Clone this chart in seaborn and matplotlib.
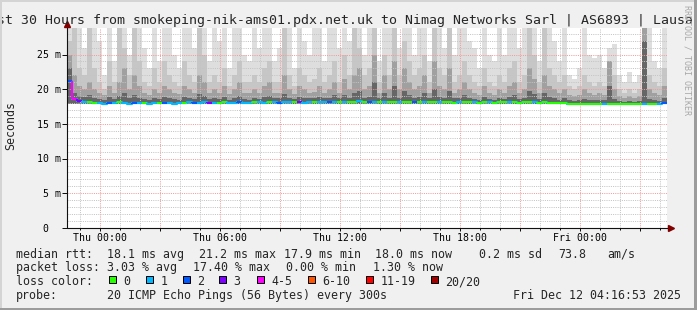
import matplotlib
matplotlib.use("Agg")
import matplotlib.pyplot as plt
import seaborn as sns
import numpy as np
import pandas as pd
from matplotlib.patches import Rectangle
from matplotlib.transforms import offset_copy, blended_transform_factory

# ---------------- data ----------------
title = "Last 30 Hours from smokeping-nik-ams01.pdx.net.uk to Nimag Networks Sarl | AS6893 | Lausanne"
x_tick_hours = [0, 6, 12, 18, 24]
x_tick_labels = ["Thu 00:00", "Thu 06:00", "Thu 12:00", "Thu 18:00", "Fri 00:00"]
y_tick_values = [0, 5, 10, 15, 20, 25]
y_tick_labels = [" 0", " 5 m", "10 m", "15 m", "20 m", "25 m"]
start_hour = -1.65      # hours relative to Thu 00:00
step_hours = 0.25

# smoke envelopes (ms), outermost (lightest) to innermost (darkest)
smoke_max = [
    29.5, 29.5, 29.5, 26, 29.5, 29.5, 27, 22, 29.5, 24, 29.5, 29.5, 25, 29.5, 29.5, 26, 23, 29.5, 24, 29.5,
    29.5, 25, 23, 29.5, 29.5, 26, 29.5, 29.5, 24, 29.5, 27, 29.5, 23, 29.5, 29.5, 25, 24, 29.5, 26, 29.5,
    29.5, 24, 26, 29.5, 29.5, 23, 29.5, 27, 25, 29.5, 29.5, 24, 29.5, 29.5, 26, 29.5, 27, 29.5, 29.5, 25,
    29.5, 29.5, 24, 29.5, 29.5, 29.5, 26, 29.5, 29.5, 25, 29.5, 29.5, 24, 29.5, 29.5, 26, 29.5, 25, 29.5, 29.5,
    27, 26, 23, 29.5, 25, 24, 29.5, 25, 29.5, 29.5, 26, 29.5, 29.5, 29.5, 24, 29.5, 29.5, 27, 24, 29.5,
    22, 21.5, 23, 29.5, 25, 24.5, 25, 23, 26, 26.5, 22, 21, 22.5, 21, 22, 29.5, 29.5, 24, 23, 29.5,
]
smoke_q2 = [
    27, 29.5, 23, 22, 29.5, 23, 21, 20, 24, 21, 29.5, 26, 22, 29.5, 24, 21, 20.5, 23, 21, 24,
    22, 21, 20.5, 24, 22, 21, 29.5, 25, 21, 22, 21, 23, 20.5, 22, 24, 21, 21, 22, 21, 23,
    24, 21, 21, 29.5, 22, 20.5, 23, 22, 21, 21.5, 23, 21, 22, 24, 21, 25, 22, 29.5, 26, 22,
    23, 29.5, 21, 25, 22, 29.5, 22, 27, 24, 22, 23, 25, 21, 29.5, 23, 22, 29.5, 21, 22, 24,
    22, 21, 20.5, 23, 21, 20.5, 22, 21, 23, 24, 21, 22, 29.5, 25, 21, 29.5, 23, 22, 21, 22,
    20.5, 20, 20.5, 22, 21, 20.5, 21, 20.5, 24, 22, 20, 19.5, 20, 19.5, 20, 29.5, 22, 21, 20.5, 23,
]
smoke_q3 = [
    25, 22, 20.5, 20, 21, 20, 19.5, 19.2, 20.5, 19.5, 21, 23, 20, 22, 20.5, 19.5, 19.2, 20, 19.5, 20.5,
    20, 19.5, 19.3, 20.5, 20, 19.5, 22, 21, 19.5, 20, 19.5, 20.5, 19.3, 20, 21, 19.5, 19.4, 20, 19.5, 20.5,
    21, 19.5, 19.5, 22, 20, 19.3, 20.5, 20, 19.5, 19.6, 20.5, 19.5, 20, 21, 19.5, 21.5, 20, 22, 23, 20,
    20.5, 25, 19.5, 22, 20, 24, 20, 23, 21, 20, 20.5, 22, 19.5, 24, 20.5, 20, 23, 19.5, 20, 21,
    20, 19.5, 19.2, 20.5, 19.5, 19.2, 20, 19.5, 20.5, 21, 19.5, 20, 23, 21.5, 19.5, 22, 20.5, 20, 19.5, 20,
    19.2, 19, 19.2, 20, 19.5, 19.2, 19.5, 19.2, 24, 20, 19, 18.8, 19, 18.8, 19, 29.5, 20, 19.5, 19.2, 20.5,
]
smoke_q4 = [
    23, 19.5, 19, 18.9, 19.2, 18.8, 18.6, 18.5, 18.9, 18.6, 19, 19.5, 18.7, 19.2, 18.8, 18.6, 18.5, 18.8, 18.6, 18.9,
    18.8, 18.6, 18.5, 18.9, 18.8, 18.6, 19.3, 19, 18.6, 18.8, 18.6, 18.9, 18.5, 18.8, 19, 18.6, 18.5, 18.8, 18.6, 18.9,
    19, 18.7, 18.7, 19.3, 18.8, 18.6, 18.9, 18.8, 18.7, 18.7, 18.9, 18.7, 18.8, 19.1, 18.7, 19.2, 18.8, 19.4, 19.8, 18.8,
    18.9, 21, 18.7, 19.4, 18.8, 20.5, 18.8, 19.8, 19.1, 18.8, 18.9, 19.4, 18.7, 20, 18.9, 18.8, 19.8, 18.7, 18.8, 19.2,
    18.8, 18.6, 18.5, 18.9, 18.6, 18.5, 18.8, 18.6, 18.9, 19.2, 18.6, 18.8, 19.8, 19.3, 18.6, 19.5, 18.9, 18.8, 18.5, 18.7,
    18.4, 18.3, 18.4, 18.6, 18.5, 18.4, 18.5, 18.4, 20.5, 18.6, 18.3, 18.2, 18.3, 18.2, 18.3, 27, 18.6, 18.4, 18.3, 18.7,
]
rtt_min = [
    17.9, 17.9, 17.8, 17.8, 17.8, 17.8, 17.8, 17.7, 17.8, 17.8, 17.8, 17.8, 17.7, 17.8, 17.8, 17.8, 17.7, 17.8, 17.8, 17.8,
    17.8, 17.7, 17.8, 17.8, 17.8, 17.8, 17.8, 17.8, 17.8, 17.8, 17.8, 17.8, 17.8, 17.8, 17.8, 17.8, 17.8, 17.8, 17.8, 17.8,
    17.8, 17.8, 17.8, 17.8, 17.9, 17.8, 17.8, 17.8, 17.8, 17.8, 17.8, 17.9, 17.8, 17.8, 17.8, 17.9, 17.8, 17.9, 17.9, 17.9,
    17.9, 17.9, 17.8, 17.9, 17.9, 17.9, 17.8, 17.8, 17.9, 17.8, 17.8, 17.9, 17.8, 17.8, 17.9, 17.8, 17.8, 17.8, 17.8, 17.8,
    17.8, 17.8, 17.8, 17.8, 17.8, 17.8, 17.8, 17.8, 17.8, 17.8, 17.8, 17.8, 17.8, 17.8, 17.8, 17.8, 17.8, 17.8, 17.8, 17.8,
    17.7, 17.7, 17.7, 17.7, 17.7, 17.7, 17.7, 17.7, 17.7, 17.7, 17.7, 17.7, 17.7, 17.7, 17.7, 17.7, 17.7, 17.7, 17.7, 17.8,
]
median_rtt = [
    21.2, 18.6, 18.3, 18.2, 18.1, 18.0, 18.0, 17.9, 18.0, 18.0, 18.1, 18.0, 17.9, 18.0, 18.0, 18.0, 17.9, 18.0, 18.0, 18.0,
    18.0, 17.9, 18.0, 18.0, 18.1, 18.0, 18.0, 18.1, 18.0, 18.0, 18.0, 18.1, 18.0, 18.0, 18.1, 18.0, 18.0, 18.1, 18.1, 18.0,
    18.1, 18.1, 18.0, 18.1, 18.2, 18.1, 18.1, 18.0, 18.1, 18.1, 18.1, 18.2, 18.1, 18.1, 18.1, 18.2, 18.1, 18.2, 18.3, 18.2,
    18.2, 18.2, 18.1, 18.2, 18.2, 18.2, 18.1, 18.1, 18.2, 18.1, 18.1, 18.2, 18.1, 18.1, 18.2, 18.1, 18.1, 18.0, 18.1, 18.1,
    18.1, 18.1, 18.0, 18.1, 18.1, 18.0, 18.1, 18.1, 18.1, 18.1, 18.0, 18.1, 18.1, 18.1, 18.0, 18.1, 18.0, 18.0, 18.0, 18.0,
    17.9, 17.9, 17.9, 17.9, 17.9, 17.9, 17.9, 17.9, 17.9, 17.9, 17.9, 17.9, 17.9, 17.9, 17.9, 17.9, 17.9, 17.9, 17.9, 18.0,
]
loss = [
    2, 4, 3, 1, 0, 0, 1, 1, 2, 1, 0, 1, 1, 2, 1, 0, 1, 1, 0, 2,
    1, 1, 1, 0, 1, 2, 1, 1, 3, 1, 0, 0, 1, 1, 2, 1, 1, 0, 1, 1,
    0, 1, 2, 1, 1, 0, 3, 1, 1, 0, 1, 1, 2, 1, 0, 1, 0, 0, 1, 0,
    2, 1, 0, 1, 0, 0, 1, 0, 0, 2, 0, 1, 0, 0, 1, 0, 0, 0, 1, 0,
    0, 1, 0, 0, 1, 0, 0, 0, 1, 0, 0, 0, 0, 1, 0, 0, 0, 0, 0, 0,
    0, 0, 0, 0, 0, 0, 0, 1, 0, 0, 0, 0, 0, 0, 0, 1, 0, 0, 1, 2,
]

loss_labels = ["0", "1", "2", "3", "4-5", "6-10", "11-19", "20/20"]
loss_colors = ["#26ff00", "#00b8ff", "#0059ff", "#7e00ff", "#ff00ff", "#ff5500", "#ff0000", "#a10000"]
loss_upper = [0, 1, 2, 3, 5, 10, 19, 20]

rtt_row = ["18.1 ms avg", "21.2 ms max", "17.9 ms min", "18.0 ms now", "0.2 ms sd", "73.8", "am/s"]
loss_row = ["3.03 % avg", "17.40 % max", "0.00 % min", "1.30 % now"]
probe_text = "20 ICMP Echo Pings (56 Bytes) every 300s"
stamp_text = "Fri Dec 12 04:16:53 2025"

# ---------------- figure ----------------
W, H, DPI = 697, 310, 100
sns.set_theme(style="white")
plt.rcParams['font.family'] = ['DejaVu Sans Mono', 'DejaVu Sans']

fig = plt.figure(figsize=(W / DPI, H / DPI), dpi=DPI, facecolor='#f0f0f0')
PL, PR, PT, PB = 67, 667, 28, 228
ax = fig.add_axes([PL / W, 1 - PB / H, (PR - PL) / W, (PB - PT) / H])
ax.set_facecolor('white')

n = len(median_rtt)
edges = start_hour + step_hours * np.arange(n + 1)


def ext(a):
    return np.append(np.asarray(a, float), a[-1])


layers = [(smoke_max, '#dedede'), (smoke_q2, '#c6c6c6'), (smoke_q3, '#a0a0a0'), (smoke_q4, '#666666')]
for vals, col in layers:
    ax.fill_between(edges, ext(rtt_min), ext(vals), step='post', color=col, lw=0, zorder=1)


def loss_idx(v):
    for k, up in enumerate(loss_upper):
        if v <= up:
            return k
    return len(loss_upper) - 1


seg_cols = [loss_colors[loss_idx(v)] for v in loss]
df = pd.DataFrame({'t': edges, 'rtt': ext(median_rtt)})
sns.lineplot(data=df, x='t', y='rtt', estimator=None, drawstyle='steps-post',
             color=loss_colors[1], lw=1.5, ax=ax, zorder=3)
ax.hlines(median_rtt, edges[:-1], edges[1:], colors=seg_cols, lw=1.5, zorder=3.1)
ax.vlines(edges[1:-1], median_rtt[:-1], median_rtt[1:], colors=seg_cols[1:], lw=1.5, zorder=3.1)
ax.vlines(edges[:1], median_rtt[:1], median_rtt[1:2], colors=seg_cols[:1], lw=1.5, zorder=3.1)

ax.set_xlabel('')
ax.set_ylabel('')
ax.set_xlim(edges[0], edges[-1])
ax.set_ylim(0, 28.82)
ax.set_xticks(np.arange(0, 28, 3))
ax.set_xticks(np.arange(-1, 29, 1), minor=True)
ax.set_yticks(y_tick_values)
ax.set_yticks(np.arange(1, 29, 1), minor=True)
ax.set_axisbelow(False)
ax.grid(which='minor', color='#c4c4c4', lw=0.72, ls=(0, (1, 1.2)))
ax.grid(which='major', color='#f39a9a', lw=0.72, ls=(0, (1, 1.2)))
for s in ax.spines.values():
    s.set_visible(False)
ax.tick_params(axis='y', which='major', left=True, length=3.6, width=0.72, color='#101010',
               direction='out', labelleft=False)
ax.tick_params(axis='y', which='minor', left=False)
ax.tick_params(axis='x', which='major', bottom=True, length=2.2, width=0.72, color='#101010',
               direction='out', labelbottom=False)
ax.tick_params(axis='x', which='minor', bottom=True, length=1.4, width=0.72, color='#101010',
               direction='out')

# axis lines with arrows
ax.plot([0, 0], [0, 1 + (PT - 23) / (PB - PT)], transform=ax.transAxes, color='#101010',
        lw=0.8, clip_on=False, zorder=4)
ax.plot([0, 1 + (670 - PR) / (PR - PL)], [0, 0], transform=ax.transAxes, color='#101010',
        lw=0.8, clip_on=False, zorder=4)
ax.plot([0], [1 + (PT - 23.5) / (PB - PT)], marker='^', ms=4.2, color='#800000',
        transform=ax.transAxes, clip_on=False, zorder=5)
ax.plot([1 + (670.5 - PR) / (PR - PL)], [0], marker='>', ms=4.2, color='#800000',
        transform=ax.transAxes, clip_on=False, zorder=5)

# tick labels
TICK_FS = 7.1
for h, lab in zip(x_tick_hours, x_tick_labels):
    ax.text(h, (PB - 240.7) / (PB - PT), lab, transform=ax.get_xaxis_transform(),
            ha='center', va='baseline', fontsize=TICK_FS, color='black')
ytrans = offset_copy(blended_transform_factory(fig.transFigure, ax.transData), fig=fig,
                     x=0, y=-3.6, units='dots')
char_w = 5.94
for v, lab in zip(y_tick_values, y_tick_labels):
    lead = len(lab) - len(lab.lstrip())
    ax.text((36.7 + lead * char_w) / W, v, lab.lstrip(), transform=ytrans,
            ha='left', va='baseline', fontsize=TICK_FS, color='black')


def ftext(x, y, s, **kw):
    kw.setdefault('fontsize', 8.37)
    kw.setdefault('va', 'baseline')
    kw.setdefault('ha', 'left')
    fig.text(x / W, 1 - y / H, s, **kw)


ftext(-19.3, 24, title, fontsize=9.57)
ftext(10.5, 126, "Seconds", rotation=90, ha='center', va='center')
ftext(687, 60, "RRDTOOL / TOBI OETIKER", rotation=270, ha='center', va='center',
      fontsize=6.0, color='#a8a8a8')

rows_y = [257.6, 271.4, 285.2, 299.0]
ftext(16, rows_y[0], "median rtt:")
for x, s in zip([107.3, 199.3, 284.3, 375.0, 479.3, 558.3, 607.3], rtt_row):
    ftext(x, rows_y[0], s)
ftext(16, rows_y[1], "packet loss:")
for x, s in zip([107.3, 193.3, 286.0, 372.7], loss_row):
    ftext(x, rows_y[1], s)
ftext(16, rows_y[2], "loss color:")
box_x = [109, 145.7, 182.7, 219, 256.7, 307.7, 366, 431]
for bx, lab, col in zip(box_x, loss_labels, loss_colors):
    fig.patches.append(Rectangle((bx / W, 1 - 283.3 / H), 7 / W, 7 / H, transform=fig.transFigure,
                                 facecolor=col, edgecolor='black', lw=0.72))
    ftext(bx + 14.5, rows_y[2], lab)
ftext(16, rows_y[3], "probe:")
ftext(107.3, rows_y[3], probe_text)
ftext(513.3, rows_y[3], stamp_text)

# frame shading
for (x0, y0, w, h, c) in [(0, 1 - 2 / H, 1, 2 / H, '#d4d4d4'), (0, 0, 2 / W, 1, '#d4d4d4'),
                          (1 - 3 / W, 0, 3 / W, 1, '#9c9c9c'), (0, 0, 1, 2 / H, '#9c9c9c')]:
    fig.patches.append(Rectangle((x0, y0), w, h, transform=fig.transFigure, facecolor=c,
                                 edgecolor='none', zorder=10))

fig.savefig('out.png', dpi=DPI, facecolor=fig.get_facecolor())
